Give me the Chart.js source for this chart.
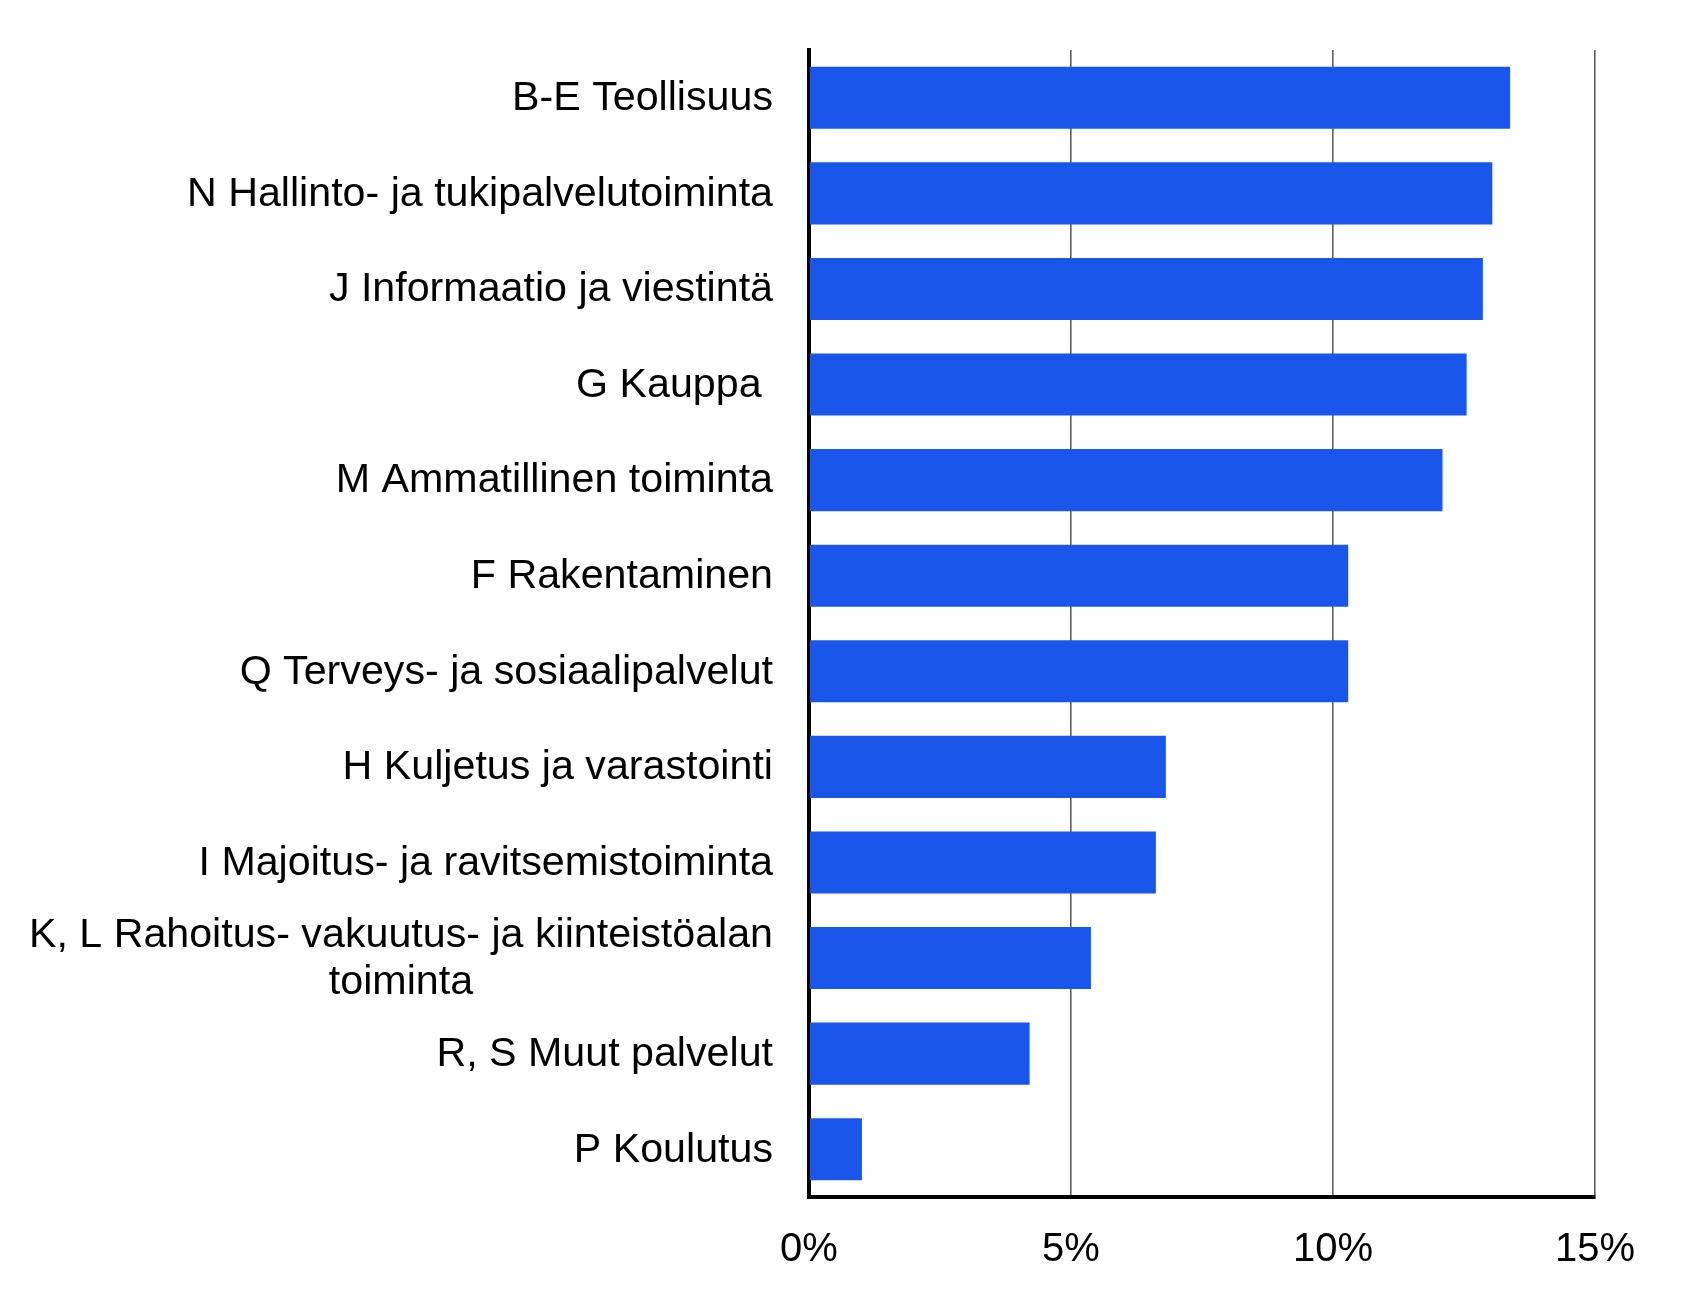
<!DOCTYPE html>
<html lang="fi">
<head>
<meta charset="UTF-8">
<title>Toimialat</title>
<script src="https://cdn.jsdelivr.net/npm/chart.js"></script>
<style>
  html, body { margin: 0; padding: 0; background: #fff; }
  #wrap { width: 1689px; height: 1299px; }
</style>
</head>
<body>
<div id="wrap"><canvas id="chart" width="1689" height="1299"></canvas></div>
<script>
// Toimialat (categories), top to bottom
const categories = [
  ['B-E Teollisuus'],
  ['N Hallinto- ja tukipalvelutoiminta'],
  ['J Informaatio ja viestintä'],
  ['G Kauppa '],
  ['M Ammatillinen toiminta'],
  ['F Rakentaminen'],
  ['Q Terveys- ja sosiaalipalvelut'],
  ['H Kuljetus ja varastointi'],
  ['I Majoitus- ja ravitsemistoiminta'],
  ['K, L Rahoitus- vakuutus- ja kiinteistöalan', 'toiminta'],
  ['R, S Muut palvelut'],
  ['P Koulutus']
];
// share, percent
const shares = [13.38, 13.04, 12.86, 12.55, 12.09, 10.29, 10.29, 6.81, 6.62, 5.38, 4.21, 1.01];
const xTicks = [0, 5, 10, 15];

const FONT = '"Liberation Sans", Arial, sans-serif';
const LABEL_SIZE = 41.2;
const LINE_GAP = 47;

// category labels: block right-aligned against the axis, lines centred within the block
const categoryLabels = {
  id: 'categoryLabels',
  afterDraw(chart) {
    const ctx = chart.ctx;
    const y = chart.scales.y;
    const right = y.right - 36;
    ctx.save();
    ctx.font = LABEL_SIZE + 'px ' + FONT;
    ctx.fillStyle = '#000';
    ctx.textBaseline = 'middle';
    ctx.textAlign = 'center';
    categories.forEach((lines, i) => {
      const cy = y.getPixelForTick(i) + 1;
      const w = Math.max(...lines.map(l => ctx.measureText(l).width));
      const cx = right - w / 2;
      const y0 = cy - (lines.length - 1) * LINE_GAP / 2;
      lines.forEach((l, j) => {
        const lw = ctx.measureText(l).width;
        // single lines stay right aligned (keeps trailing space of "G Kauppa ")
        ctx.fillText(l, lines.length === 1 ? right - lw / 2 : cx, y0 + j * LINE_GAP);
      });
    });
    ctx.restore();
  }
};

new Chart(document.getElementById('chart'), {
  type: 'bar',
  data: {
    labels: categories.map(c => c.join(' ')),
    datasets: [{
      data: shares,
      backgroundColor: '#1b56eb',
      borderWidth: 0,
      barPercentage: 0.65,
      categoryPercentage: 1
    }]
  },
  plugins: [categoryLabels],
  options: {
    indexAxis: 'y',
    responsive: false,
    animation: false,
    layout: { padding: { top: 50, right: 94, left: 0, bottom: 0 } },
    plugins: { legend: { display: false }, tooltip: { enabled: false } },
    scales: {
      x: {
        min: 0,
        max: 15,
        afterBuildTicks(scale) { scale.ticks = xTicks.map(v => ({ value: v })); },
        afterFit(scale) { scale.height = 102; },
        ticks: {
          callback: v => v + '%',
          font: { family: FONT, size: 40 },
          color: '#000',
          padding: 29,
          maxRotation: 0
        },
        grid: {
          color: ctx => ctx.tick && ctx.tick.value === 0 ? 'rgba(0,0,0,0)' : '#5f5f5f',
          lineWidth: 1.6,
          drawTicks: false
        },
        border: { display: true, color: '#000', width: 4 }
      },
      y: {
        afterFit(scale) { scale.width = 809; },
        ticks: { display: false },
        grid: { display: false, drawTicks: false },
        border: { display: true, color: '#000', width: 4 }
      }
    }
  }
});
</script>
</body>
</html>
